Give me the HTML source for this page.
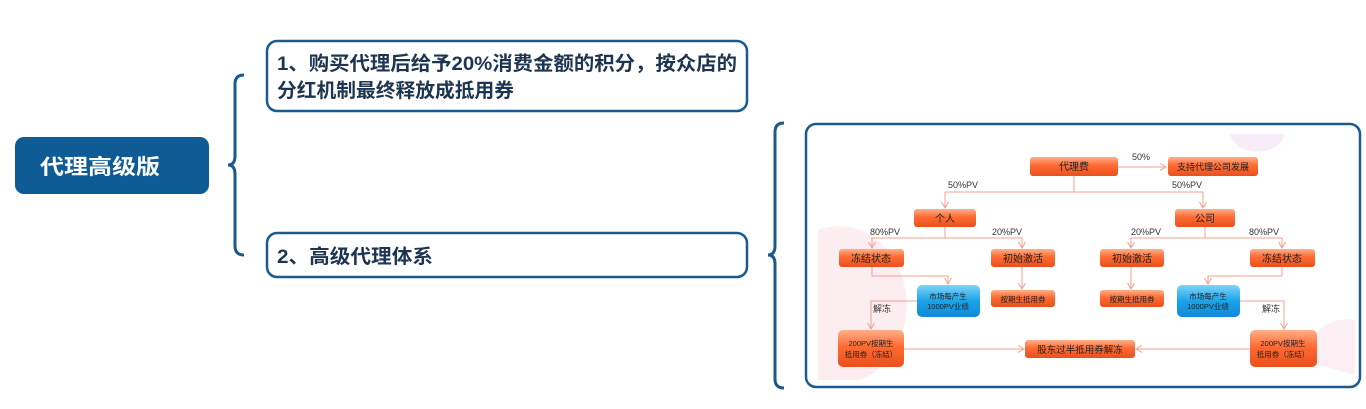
<!DOCTYPE html>
<html><head><meta charset="utf-8"><style>
html,body{margin:0;padding:0;background:#fff;}
svg{display:block;font-family:"Liberation Sans","Noto Sans CJK SC",sans-serif;}
</style></head><body>
<svg width="1366" height="409" viewBox="0 0 1366 409" xmlns="http://www.w3.org/2000/svg">
<defs>
<linearGradient id="og" x1="0" y1="0" x2="0" y2="1">
<stop offset="0" stop-color="#ffb08a"/><stop offset="0.45" stop-color="#ff6a33"/><stop offset="1" stop-color="#e8501c"/></linearGradient>
<linearGradient id="bg" x1="0" y1="0" x2="0" y2="1">
<stop offset="0" stop-color="#7fd4f7"/><stop offset="0.5" stop-color="#1aa3e8"/><stop offset="1" stop-color="#1289d6"/></linearGradient>
<marker id="ar" markerWidth="8" markerHeight="8" refX="6" refY="4" orient="auto" markerUnits="userSpaceOnUse">
<path d="M0,0.5 L6,4 L0,7.5" fill="none" stroke="#f0a090" stroke-width="1"/></marker>
</defs>
<rect x="15" y="137" width="194" height="57" rx="9" fill="#0f5b96"/>
<text x="40" y="174" font-size="21" font-weight="bold" fill="#fff" textLength="120" lengthAdjust="spacingAndGlyphs">代理高级版</text>
<path d="M244,75 Q235,75 235,84 L235,156 Q235,165 228,165 Q235,165 235,174 L235,246 Q235,255 244,255" fill="none" stroke="#1a5a8c" stroke-width="3"/>
<rect x="267" y="41" width="480" height="70" rx="10" fill="#fff" stroke="#1a5a8c" stroke-width="2.5"/>
<text x="277" y="70" font-size="19.5" font-weight="bold" fill="#1d3550" textLength="460" lengthAdjust="spacingAndGlyphs">1、购买代理后给予20%消费金额的积分，按众店的</text>
<text x="277" y="97" font-size="19.5" font-weight="bold" fill="#1d3550" textLength="237" lengthAdjust="spacingAndGlyphs">分红机制最终释放成抵用券</text>
<rect x="267" y="233" width="480" height="44" rx="10" fill="#fff" stroke="#1a5a8c" stroke-width="2.5"/>
<text x="277" y="263" font-size="19.5" font-weight="bold" fill="#1d3550" textLength="156" lengthAdjust="spacingAndGlyphs">2、高级代理体系</text>
<path d="M784,123 Q775,123 775,132 L775,246 Q775,255 768,255 Q775,255 775,264 L775,379 Q775,388 784,388" fill="none" stroke="#1a5a8c" stroke-width="3"/>
<rect x="806" y="124" width="554" height="263" rx="10" fill="#fff" stroke="#1a5a8c" stroke-width="2.5"/>
<path d="M1230,134 A28,22 0 0 0 1285,134 Z" fill="#f8ecf8"/>
<path d="M818,230 A60,70 0 0 1 860,380 L818,380 Z" fill="#fbe8ee" opacity="0.8"/>
<path d="M1355,320 A50,60 0 0 0 1300,360 L1355,375 Z" fill="#fbe8ee" opacity="0.7"/>
<g fill="none" stroke="#f0a090" stroke-width="1">
<path d="M1118,167 H1166" marker-end="url(#ar)"/>
<path d="M1074,176 V192 M945,192 H1203"/>
<path d="M945,192 V208" marker-end="url(#ar)"/><path d="M1203,192 V208" marker-end="url(#ar)"/>
<path d="M945,227 V238 H872 V248" marker-end="url(#ar)"/><path d="M945,238 H1022 V248" marker-end="url(#ar)"/>
<path d="M1205,227 V238 H1131 V248" marker-end="url(#ar)"/><path d="M1205,238 H1282 V248" marker-end="url(#ar)"/>
<path d="M872,266 V276 H948 V284" marker-end="url(#ar)"/>
<path d="M1282,266 V276 H1208 V284" marker-end="url(#ar)"/>
<path d="M1022,266 V289" marker-end="url(#ar)"/><path d="M1131,266 V289" marker-end="url(#ar)"/>
<path d="M917,301 H871 V329" marker-end="url(#ar)"/>
<path d="M1240,301 H1284 V329" marker-end="url(#ar)"/>
<path d="M904,349 H1024" marker-end="url(#ar)"/>
<path d="M1250,349 H1136" marker-end="url(#ar)"/>
</g>
<g font-size="9" fill="#333">
<text x="1132" y="160">50%</text>
<text x="948" y="188">50%PV</text>
<text x="1172" y="188">50%PV</text>
<text x="870" y="235">80%PV</text>
<text x="992" y="235">20%PV</text>
<text x="1131" y="235">20%PV</text>
<text x="1249" y="235">80%PV</text>
<text x="873" y="312">解冻</text>
<text x="1262" y="312">解冻</text>
</g>
<g fill="url(#og)">
<rect x="1030" y="157" width="88" height="19" rx="3"/>
<rect x="1168" y="157" width="90" height="19" rx="3"/>
<rect x="914" y="209" width="62" height="18" rx="3"/>
<rect x="1175" y="209" width="60" height="18" rx="3"/>
<rect x="839" y="249" width="65" height="18" rx="3"/>
<rect x="991" y="249" width="64" height="18" rx="3"/>
<rect x="1100" y="249" width="64" height="18" rx="3"/>
<rect x="1250" y="249" width="65" height="18" rx="3"/>
<rect x="991" y="290" width="64" height="17" rx="3"/>
<rect x="1100" y="290" width="64" height="17" rx="3"/>
<rect x="838" y="330" width="66" height="37" rx="5"/>
<rect x="1250" y="330" width="67" height="37" rx="5"/>
<rect x="1025" y="340" width="110" height="18" rx="3"/>
</g>
<g fill="url(#bg)">
<rect x="917" y="285" width="63" height="32" rx="5"/>
<rect x="1177" y="285" width="63" height="32" rx="5"/>
</g>
<g font-size="10" fill="#222" text-anchor="middle">
<text x="1074" y="170">代理费</text>
<text x="1213" y="170" font-size="9">支持代理公司发展</text>
<text x="945" y="222">个人</text>
<text x="1205" y="222">公司</text>
<text x="871" y="262">冻结状态</text>
<text x="1023" y="262">初始激活</text>
<text x="1132" y="262">初始激活</text>
<text x="1282" y="262">冻结状态</text>
<text x="1023" y="302" font-size="7.5">按期生抵用券</text>
<text x="1132" y="302" font-size="7.5">按期生抵用券</text>
<text x="948" y="299" font-size="7.5">市场每产生</text>
<text x="948" y="309" font-size="7.5">1000PV业绩</text>
<text x="1208" y="299" font-size="7.5">市场每产生</text>
<text x="1208" y="309" font-size="7.5">1000PV业绩</text>
<text x="871" y="346" font-size="7.5">200PV按期生</text>
<text x="871" y="357" font-size="7.5">抵用券（冻结）</text>
<text x="1283" y="346" font-size="7.5">200PV按期生</text>
<text x="1283" y="357" font-size="7.5">抵用券（冻结）</text>
<text x="1080" y="353" font-size="9.5">股东过半抵用券解冻</text>
</g>
</svg>
</body></html>
